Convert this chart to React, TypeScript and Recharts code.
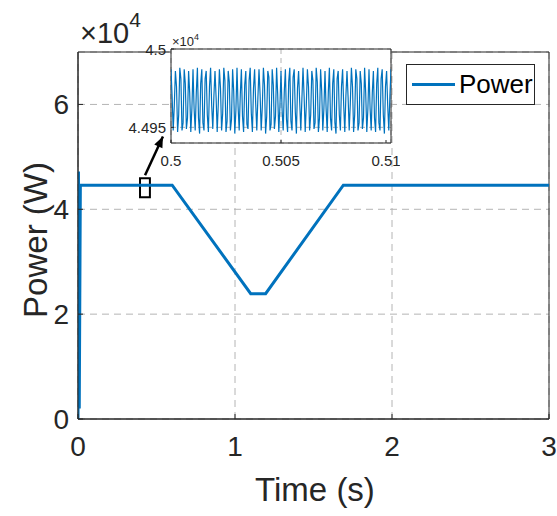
import React from 'react';
import {
  LineChart,
  Line,
  XAxis,
  YAxis,
  CartesianGrid,
  ReferenceArea,
  ReferenceLine,
  ReferenceDot,
  Legend,
} from 'recharts';

const FONT = '"Liberation Sans", Arial, Helvetica, sans-serif';
const INK = '#262626';
const BLUE = '#0072BD';
const GRID = '#b4b4b4';

// Power trace over the whole run (time in s, power in W)
const timeS = [0, 0.003, 0.008, 0.015, 0.6, 1.1, 1.195, 1.69, 3];
const powerW = [0, 47200, 2000, 44600, 44600, 23900, 23900, 44600, 44600];

const xTicks = [0, 1, 2, 3];
const yTicks = [0, 20000, 40000, 60000];

// Zoomed window 0.5 s – 0.51 s, sampled every 50 µs
const zoomStartS = 0.5;
const zoomStepS = 0.00005;
const zoomPowerW = [
  44987, 44970, 44948, 44964, 44986, 44976, 44947, 44958,
  44988, 44981, 44948, 44953, 44987, 44978, 44949, 44956,
  44986, 44972, 44947, 44962, 44987, 44962, 44948, 44972,
  44988, 44956, 44946, 44978, 44987, 44953, 44948, 44981,
  44986, 44958, 44947, 44976, 44988, 44964, 44949, 44970,
  44986, 44969, 44947, 44965, 44987, 44975, 44948, 44959,
  44988, 44980, 44947, 44954, 44986, 44979, 44948, 44955,
  44987, 44973, 44946, 44961, 44988, 44963, 44948, 44971,
  44987, 44957, 44947, 44977, 44986, 44952, 44949, 44980,
  44988, 44959, 44947, 44975, 44987, 44965, 44948, 44969,
  44987, 44971, 44948, 44963, 44988, 44977, 44946, 44957,
  44986, 44982, 44948, 44952, 44987, 44977, 44949, 44957,
  44988, 44971, 44947, 44963, 44986, 44961, 44948, 44973,
  44987, 44955, 44947, 44979, 44988, 44954, 44948, 44982,
  44987, 44960, 44946, 44975, 44986, 44966, 44948, 44968,
  44988, 44970, 44947, 44964, 44987, 44976, 44948, 44958,
  44986, 44980, 44949, 44953, 44988, 44979, 44947, 44956,
  44987, 44973, 44948, 44962, 44986, 44962, 44947, 44972,
  44988, 44956, 44948, 44978, 44987, 44953, 44946, 44981,
  44986, 44958, 44948, 44976, 44987, 44964, 44947, 44970,
  44986, 44969, 44948, 44965, 44988, 44976, 44947, 44958,
  44987, 44981, 44948, 44953, 44986, 44978, 44949, 44956,
  44988, 44972, 44947, 44962, 44987, 44962, 44948, 44972,
  44986, 44956, 44947, 44978, 44988, 44953, 44948, 44981,
  44987, 44958, 44946, 44976, 44986, 44964, 44948, 44970,
  44987,
];
const zoomXTicks = [0.5, 0.505, 0.51];
const zoomYTicks = [44950, 45000];

// Marker around the zoomed window and the arrow pointing to the inset
const markerBox = { x1: 0.395, x2: 0.458, y1: 42300, y2: 45900 };
const arrowTail = { x: 0.427, y: 46500 };
const arrowTip = { x: 0.541, y: 53900 };

const mainData = timeS.map((t, i) => ({ t, p: powerW[i] }));
const zoomData = zoomPowerW.map((p, i) => ({ t: zoomStartS + i * zoomStepS, p }));

const fmtX = (v: number) => String(v);
const fmtY = (v: number) => String(v / 10000);
const fmtZoomY = (v: number) => (v === 45000 ? '4.5' : String(v / 10000));

const MainXTick = (props: any) => {
  const { x, y, payload } = props;
  return (
    <g>
      <line x1={x} x2={x} y1={y} y2={y - 5} stroke={INK} strokeWidth={1} />
      <text x={x} y={y + 37} textAnchor="middle" fill={INK} fontSize={28} fontFamily={FONT}>
        {fmtX(payload.value)}
      </text>
    </g>
  );
};

const MainYTick = (props: any) => {
  const { x, y, payload } = props;
  return (
    <g>
      <line x1={x} x2={x + 5} y1={y} y2={y} stroke={INK} strokeWidth={1} />
      <text x={x - 9} y={y + 10} textAnchor="end" fill={INK} fontSize={28} fontFamily={FONT}>
        {fmtY(payload.value)}
      </text>
    </g>
  );
};

const ZoomXTick = (props: any) => {
  const { x, y, payload } = props;
  return (
    <g>
      <line x1={x} x2={x} y1={y} y2={y - 3} stroke={INK} strokeWidth={1} />
      <text x={x} y={y + 23} textAnchor="middle" fill={INK} fontSize={15} fontFamily={FONT}>
        {String(payload.value)}
      </text>
    </g>
  );
};

const ZoomYTick = (props: any) => {
  const { x, y, payload } = props;
  return (
    <g>
      <line x1={x} x2={x + 3} y1={y} y2={y} stroke={INK} strokeWidth={1} />
      <text x={x - 5} y={y + 6} textAnchor="end" fill={INK} fontSize={15} fontFamily={FONT}>
        {fmtZoomY(payload.value)}
      </text>
    </g>
  );
};

const XTitle = () => (
  <text x={315} y={501} textAnchor="middle" fill={INK} fontSize={33} fontFamily={FONT}>
    Time (s)
  </text>
);

const YTitle = () => (
  <g>
    <text
      transform="translate(47,240) rotate(-90)"
      textAnchor="middle"
      fill={INK}
      fontSize={33}
      fontFamily={FONT}
    >
      Power (W)
    </text>
    <text x={80} y={43} fill={INK} fontSize={29} fontFamily={FONT}>
      ×10
      <tspan dy={-16} fontSize={21}>
        4
      </tspan>
    </text>
  </g>
);

const ZoomExponent = () => (
  <text x={72} y={16} fill={INK} fontSize={13} fontFamily={FONT}>
    ×10
    <tspan dy={-6} fontSize={9}>
      4
    </tspan>
  </text>
);

const ArrowHead = (props: any) => {
  const { cx, cy } = props;
  if (cx == null || cy == null) return null;
  // unit vector along the arrow (screen space) and its normal
  const ux = 0.419;
  const uy = -0.907;
  const len = 11;
  const half = 4.5;
  const bx = cx - ux * len;
  const by = cy - uy * len;
  const nx = -uy;
  const ny = ux;
  const pts = `${cx},${cy} ${bx + nx * half},${by + ny * half} ${bx - nx * half},${by - ny * half}`;
  return <polygon points={pts} fill="#000" />;
};

const LegendBox = () => (
  <div
    style={{
      width: 127,
      height: 39,
      border: `1px solid ${INK}`,
      background: '#fff',
      display: 'flex',
      alignItems: 'center',
      fontFamily: FONT,
      boxSizing: 'content-box',
    }}
  >
    <svg width={52} height={39}>
      <line x1={5} x2={48} y1={19.5} y2={19.5} stroke={BLUE} strokeWidth={3} />
    </svg>
    <span style={{ fontSize: 26, color: '#000', lineHeight: '39px' }}>Power</span>
  </div>
);

export default function App() {
  return (
    <div style={{ position: 'absolute', left: 0, top: 0, width: 557, height: 516, background: '#fff' }}>
      <LineChart width={557} height={516} data={mainData} margin={{ top: 52, right: 8, bottom: 0, left: 0 }}>
        <CartesianGrid stroke={GRID} strokeDasharray="7 5" strokeWidth={1} />
        <XAxis
          dataKey="t"
          type="number"
          domain={[0, 3]}
          ticks={xTicks}
          height={97}
          tickSize={0}
          tickMargin={0}
          tick={MainXTick}
          axisLine={{ stroke: INK }}
          allowDataOverflow
          label={XTitle}
        />
        <YAxis
          type="number"
          domain={[0, 70000]}
          ticks={yTicks}
          width={78}
          tickSize={0}
          tickMargin={0}
          tick={MainYTick}
          axisLine={{ stroke: INK }}
          allowDataOverflow
          label={YTitle}
        />
        <ReferenceArea x1={0} x2={3} y1={0} y2={70000} fill="none" stroke={INK} strokeWidth={1} ifOverflow="visible" />
        <Line
          type="linear"
          dataKey="p"
          name="Power"
          stroke={BLUE}
          strokeWidth={3}
          dot={false}
          isAnimationActive={false}
        />
        <ReferenceArea
          x1={markerBox.x1}
          x2={markerBox.x2}
          y1={markerBox.y1}
          y2={markerBox.y2}
          fill="none"
          stroke="#000"
          strokeWidth={2}
          ifOverflow="visible"
        />
        <ReferenceLine
          segment={[
            { x: arrowTail.x, y: arrowTail.y },
            { x: arrowTip.x, y: arrowTip.y },
          ]}
          stroke="#000"
          strokeWidth={2.5}
          ifOverflow="visible"
        />
        <ReferenceDot x={arrowTip.x} y={arrowTip.y} r={5} shape={ArrowHead} ifOverflow="visible" />
        <Legend
          layout="vertical"
          align="center"
          verticalAlign="middle"
          content={LegendBox}
          wrapperStyle={{ position: 'absolute', left: 406, top: 64, width: 129, height: 41 }}
        />
      </LineChart>

      <div style={{ position: 'absolute', left: 100, top: 30 }}>
        <LineChart width={300} height={145} data={zoomData} margin={{ top: 19, right: 9, bottom: 0, left: 0 }}>
          <CartesianGrid fill="#fff" stroke={GRID} strokeDasharray="5 4" strokeWidth={1} />
          <XAxis
            dataKey="t"
            type="number"
            domain={[0.5, 0.51]}
            ticks={zoomXTicks}
            height={32}
            tickSize={0}
            tickMargin={0}
            tick={ZoomXTick}
            axisLine={false}
            allowDataOverflow
          />
          <YAxis
            type="number"
            domain={[44940, 45000]}
            ticks={zoomYTicks}
            width={71}
            tickSize={0}
            tickMargin={0}
            tick={ZoomYTick}
            axisLine={false}
            allowDataOverflow
            label={ZoomExponent}
          />
          <Line
            type="linear"
            dataKey="p"
            stroke={BLUE}
            strokeWidth={1.2}
            dot={false}
            isAnimationActive={false}
          />
          <ReferenceArea
            x1={0.5}
            x2={0.51}
            y1={44940}
            y2={45000}
            fill="none"
            stroke={INK}
            strokeWidth={1}
            ifOverflow="visible"
          />
        </LineChart>
      </div>
    </div>
  );
}
